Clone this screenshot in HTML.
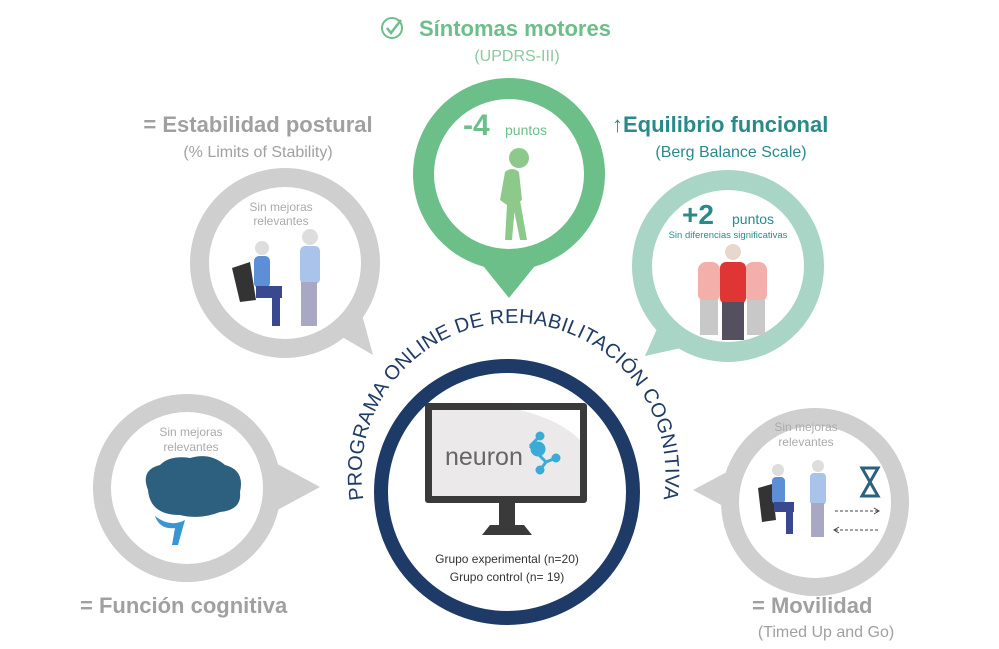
<!DOCTYPE html>
<html><head><meta charset="utf-8"><style>
html,body{margin:0;padding:0;background:#fff;}
svg{display:block;font-family:"Liberation Sans",sans-serif;}
</style></head><body>
<svg width="999" height="649" viewBox="0 0 999 649" xmlns="http://www.w3.org/2000/svg">
<defs>
<path id="arc" d="M 370 525 A 152 152 0 1 1 657 525"/>
</defs>

<!-- Green bubble top -->
<path d="M 480 262 L 509 298 L 538 262 Z" fill="#6dbf8a"/>
<circle cx="509" cy="174" r="96" fill="#6dbf8a"/>
<circle cx="509" cy="174" r="75" fill="#fff"/>
<text x="463" y="135" font-size="30" font-weight="bold" fill="#6dbf8a">-4</text>
<text x="505" y="135" font-size="14" fill="#6dbf8a">puntos</text>
<g fill="#8cc98a">
<circle cx="519" cy="158" r="10"/>
<path d="M505 172 Q512 166 519 172 L522 200 L515 205 L512 240 L505 240 L507 205 L500 200 Z"/>
<path d="M512 200 L520 240 L527 240 L520 200 Z"/>
</g>

<!-- Teal-light bubble right -->
<path d="M 660 322 L 645 356 L 690 346 Z" fill="#a8d5c5"/>
<circle cx="728" cy="266" r="96" fill="#a8d5c5"/>
<circle cx="728" cy="266" r="76" fill="#fff"/>
<text x="682" y="224" font-size="28" font-weight="bold" fill="#2a8a8a">+2</text>
<text x="732" y="224" font-size="14" fill="#2a8a8a">puntos</text>
<text x="728" y="238" font-size="9.5" fill="#2a8a8a" text-anchor="middle">Sin diferencias significativas</text>
<g>
<rect x="698" y="262" width="22" height="40" rx="8" fill="#f3b0aa"/>
<rect x="745" y="262" width="22" height="40" rx="8" fill="#f3b0aa"/>
<rect x="700" y="300" width="18" height="35" fill="#c8c8c8"/>
<rect x="747" y="300" width="18" height="35" fill="#c8c8c8"/>
<circle cx="733" cy="252" r="8" fill="#e8d8cc"/>
<rect x="720" y="262" width="26" height="42" rx="6" fill="#e03535"/>
<rect x="722" y="302" width="22" height="38" fill="#555060"/>
</g>

<!-- Gray bubble top-left -->
<path d="M 330 330 L 373 355 L 358 300 Z" fill="#cfcfcf"/>
<circle cx="285" cy="263" r="95" fill="#cfcfcf"/>
<circle cx="285" cy="263" r="76" fill="#fff"/>
<text x="281" y="211" font-size="12" fill="#aaa" text-anchor="middle">Sin mejoras</text>
<text x="281" y="225" font-size="12" fill="#aaa" text-anchor="middle">relevantes</text>
<g>
<path d="M232 268 L250 262 L256 300 L240 302 Z" fill="#333"/>
<circle cx="262" cy="248" r="7" fill="#ddd"/>
<rect x="254" y="256" width="16" height="32" rx="5" fill="#5d8fd6"/>
<rect x="256" y="286" width="26" height="12" fill="#3a4890"/>
<rect x="272" y="294" width="8" height="32" fill="#3a4890"/>
<circle cx="310" cy="237" r="8" fill="#ddd"/>
<rect x="300" y="246" width="20" height="38" rx="5" fill="#a9c3ea"/>
<rect x="301" y="282" width="16" height="44" fill="#a8a8c4"/>
</g>

<!-- Gray bubble bottom-left -->
<path d="M 270 460 L 320 487 L 270 514 Z" fill="#cfcfcf"/>
<circle cx="187" cy="488" r="94" fill="#cfcfcf"/>
<circle cx="187" cy="488" r="76" fill="#fff"/>
<text x="191" y="436" font-size="12" fill="#aaa" text-anchor="middle">Sin mejoras</text>
<text x="191" y="451" font-size="12" fill="#aaa" text-anchor="middle">relevantes</text>
<path d="M148 490 Q140 470 160 465 Q170 455 190 458 Q210 452 225 465 Q245 470 240 492 Q242 510 220 512 Q200 520 180 515 Q150 515 148 490 Z" fill="#2d5f7e"/>
<path d="M155 516 Q170 528 185 520 L178 545 L172 545 L175 528 Q160 530 155 516 Z" fill="#3a96d2"/>

<!-- Gray bubble bottom-right -->
<path d="M 740 465 L 693 490 L 740 515 Z" fill="#cfcfcf"/>
<circle cx="815" cy="502" r="94" fill="#cfcfcf"/>
<circle cx="815" cy="502" r="76" fill="#fff"/>
<text x="806" y="431" font-size="12" fill="#aaa" text-anchor="middle">Sin mejoras</text>
<text x="806" y="446" font-size="12" fill="#aaa" text-anchor="middle">relevantes</text>
<g>
<path d="M758 488 L772 484 L776 520 L762 522 Z" fill="#333"/>
<circle cx="778" cy="470" r="6" fill="#ddd"/>
<rect x="772" y="477" width="13" height="27" rx="4" fill="#5d8fd6"/>
<rect x="774" y="502" width="20" height="10" fill="#3a4890"/>
<rect x="786" y="508" width="7" height="26" fill="#3a4890"/>
<circle cx="818" cy="466" r="6" fill="#ddd"/>
<rect x="810" y="473" width="16" height="32" rx="4" fill="#a9c3ea"/>
<rect x="811" y="503" width="13" height="34" fill="#a8a8c4"/>
<path d="M862 468 L878 468 L870 482 L878 496 L862 496 L870 482 Z" fill="none" stroke="#2d5f7e" stroke-width="3"/>
<line x1="835" y1="511" x2="878" y2="511" stroke="#444" stroke-dasharray="3,2"/>
<path d="M874 508 L879 511 L874 514" fill="none" stroke="#444"/>
<line x1="835" y1="530" x2="878" y2="530" stroke="#444" stroke-dasharray="3,2"/>
<path d="M839 527 L834 530 L839 533" fill="none" stroke="#444"/>
</g>

<!-- Center ring -->
<circle cx="507" cy="492" r="126" fill="#fff" stroke="#1e3a66" stroke-width="14"/>
<text font-size="20" fill="#1e3a66" letter-spacing="0.3"><textPath href="#arc" startOffset="50%" text-anchor="middle">PROGRAMA ONLINE DE REHABILITACIÓN COGNITIVA</textPath></text>
<rect x="425" y="403" width="162" height="100" rx="3" fill="#3a3a3a"/>
<rect x="432" y="410" width="148" height="86" fill="#ece9ea"/>
<path d="M520 410 Q560 420 580 440 L580 410 Z" fill="#fff"/>
<text x="445" y="465" font-size="25" fill="#666">neuron</text>
<g stroke="#3aaad6" stroke-width="3" fill="#3aaad6">
<line x1="530" y1="446" x2="546" y2="462"/><line x1="546" y1="462" x2="556" y2="458"/><line x1="546" y1="462" x2="540" y2="470"/><line x1="530" y1="446" x2="540" y2="436"/>
<circle cx="538" cy="449" r="6"/><circle cx="540" cy="436" r="3"/><circle cx="556" cy="458" r="3"/><circle cx="540" cy="470" r="3"/>
</g>
<rect x="499" y="503" width="16" height="22" fill="#3a3a3a"/>
<path d="M482 535 L490 525 L524 525 L532 535 Z" fill="#3a3a3a"/>
<text x="507" y="563" font-size="12" fill="#333" text-anchor="middle">Grupo experimental (n=20)</text>
<text x="507" y="581" font-size="12" fill="#333" text-anchor="middle">Grupo control (n= 19)</text>

<!-- Headings -->
<circle cx="392" cy="28" r="10" fill="none" stroke="#6dbf8a" stroke-width="2"/>
<path d="M387 28 L391 33 L401 20" fill="none" stroke="#6dbf8a" stroke-width="2.5"/>
<text x="419" y="36" font-size="22" font-weight="bold" fill="#6dbf8a">Síntomas motores</text>
<text x="517" y="61" font-size="16" fill="#8cc9a0" text-anchor="middle">(UPDRS-III)</text>

<text x="258" y="132" font-size="22" font-weight="bold" fill="#a0a0a0" text-anchor="middle">= Estabilidad postural</text>
<text x="258" y="157" font-size="16" fill="#a0a0a0" text-anchor="middle">(% Limits of Stability)</text>

<text x="612" y="132" font-size="22" font-weight="bold" fill="#2a8a8a">↑Equilibrio funcional</text>
<text x="731" y="157" font-size="16" fill="#2a8a8a" text-anchor="middle">(Berg Balance Scale)</text>

<text x="80" y="613" font-size="22" font-weight="bold" fill="#a0a0a0">= Función cognitiva</text>
<text x="752" y="613" font-size="22" font-weight="bold" fill="#a0a0a0">= Movilidad</text>
<text x="826" y="637" font-size="16" fill="#a0a0a0" text-anchor="middle">(Timed Up and Go)</text>
</svg>
</body></html>
